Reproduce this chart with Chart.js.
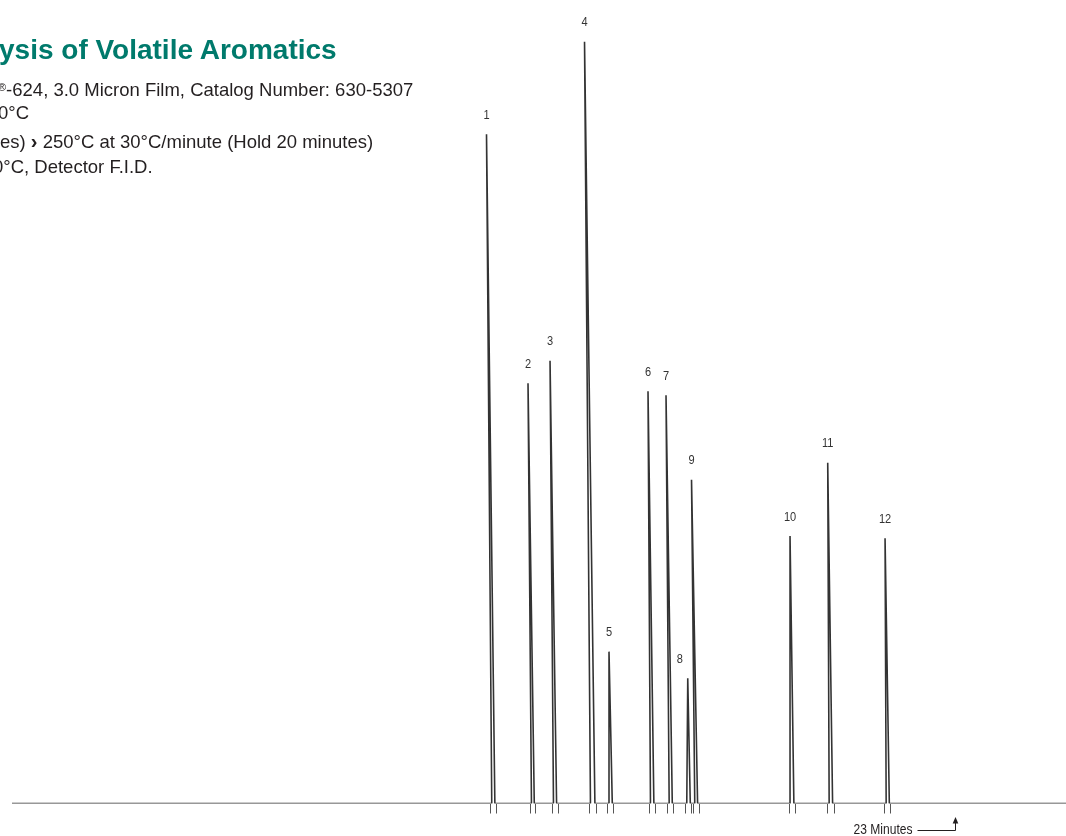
<!DOCTYPE html>
<html lang="en">
<head>
  <meta charset="UTF-8">
  <title>Analysis of Volatile Aromatics</title>
  <script src="https://cdn.jsdelivr.net/npm/chart.js"></script>
  <style>
    html, body {
      margin: 0;
      padding: 0;
      background: #fff;
      overflow: hidden;
    }
    .page {
      position: relative;
      width: 1066px;
      height: 836px;
    }
    .chart-box {
      position: absolute;
      left: 0;
      top: 0;
      width: 1066px;
      height: 836px;
    }
    .txt {
      position: absolute;
      white-space: nowrap;
      font-family: "Liberation Sans", Arial, sans-serif;
      font-size: 18.5px;
      line-height: 1;
      color: #231f20;
    }
    .title {
      font-size: 28px;
      font-weight: bold;
      color: #007a6c;
    }
    .reg {
      font-size: 11px;
      vertical-align: 5px;
    }
    .chev {
      font-weight: bold;
      font-size: 20px;
    }
  </style>
</head>
<body>
<div class="page">
  <div class="chart-box">
    <canvas id="chromChart"></canvas>
  </div>
  <div class="txt title" style="left:-1px; top:35.6px;">ysis of Volatile Aromatics</div>
  <div class="txt" style="left:-2px; top:81px;"><span class="reg">®</span>-624, 3.0 Micron Film, Catalog Number: 630-5307</div>
  <div class="txt" style="left:-2px; top:104.3px;">0°C</div>
  <div class="txt" style="left:0px; top:131px;">es) <span class="chev">›</span> 250°C at 30°C/minute (Hold 20 minutes)</div>
  <div class="txt" style="left:-7px; top:157.6px;">0°C, Detector F.I.D.</div>
</div>
<script>
  // peak numbers, retention (apex) times in minutes, relative heights (% of full scale)
  const peakNumbers = ['1', '2', '3', '4', '5', '6', '7', '8', '9', '10', '11', '12'];
  const retentionTimes = [11.570, 12.582, 13.119, 13.960, 14.557, 15.508, 15.947, 16.477, 16.569, 18.971, 19.890, 21.288];
  const peakHeights = [83.3, 52.3, 55.1, 94.8, 18.9, 51.3, 50.8, 15.6, 40.3, 33.3, 42.4, 33.0];
  // integration marks (peak start / end) in minutes
  const peakStarts = [11.663, 12.631, 13.168, 14.070, 14.526, 15.533, 15.989, 16.418, 16.613, 18.954, 19.890, 21.280];
  const peakEnds = [11.809, 12.770, 13.314, 14.248, 14.672, 15.686, 16.135, 16.574, 16.752, 19.100, 20.044, 21.427];
  const runEnd = 25.7;
  const markerTime = 23;
  const markerLabel = '23 Minutes';

  // trace: baseline with a narrow triangle for every peak
  const inset = 0.035;
  const trace = [{ x: 0, y: 0 }];
  for (let i = 0; i < retentionTimes.length; i++) {
    trace.push({ x: peakStarts[i] + inset, y: 0 });
    trace.push({ x: retentionTimes[i], y: peakHeights[i] });
    trace.push({ x: peakEnds[i] - inset, y: 0 });
  }
  trace.push({ x: runEnd, y: 0 });

  const markTicks = peakStarts.concat(peakEnds).sort((a, b) => a - b);

  // condensed look: draw Liberation Sans squeezed horizontally
  function narrowText(c, text, x, y, align, squeeze) {
    c.save();
    c.translate(x, y);
    c.scale(squeeze, 1);
    c.textAlign = align;
    c.fillText(text, 0, 0);
    c.restore();
  }

  const annotations = {
    id: 'annotations',
    afterDraw(chart) {
      const c = chart.ctx;
      const xs = chart.scales.x;
      const ys = chart.scales.y;
      c.save();
      c.fillStyle = '#333';
      c.font = '13px "Liberation Sans", Arial, sans-serif';
      c.textBaseline = 'middle';
      peakNumbers.forEach((n, i) => {
        const px = xs.getPixelForValue(retentionTimes[i]);
        const py = ys.getPixelForValue(peakHeights[i]);
        const dx = n === '8' ? -8 : 0;
        narrowText(c, n, px + dx, py - 19, 'center', 0.85);
      });

      // time marker under the baseline
      const mx = Math.round(xs.getPixelForValue(markerTime)) + 0.5;
      const base = ys.getPixelForValue(0);
      const ly = base + 27;
      c.font = '14px "Liberation Sans", Arial, sans-serif';
      c.fillStyle = '#231f20';
      narrowText(c, markerLabel, mx - 43, ly, 'right', 0.86);
      c.strokeStyle = '#231f20';
      c.lineWidth = 1;
      c.beginPath();
      c.moveTo(mx - 38, ly);
      c.lineTo(mx, ly);
      c.lineTo(mx, base + 18);
      c.stroke();
      c.beginPath();
      c.moveTo(mx, base + 13.5);
      c.lineTo(mx - 2.8, base + 20);
      c.lineTo(mx + 2.8, base + 20);
      c.closePath();
      c.fill();
      c.restore();
    }
  };

  const ctx = document.getElementById('chromChart').getContext('2d');
  const chromChart = new Chart(ctx, {
    type: 'line',
    data: {
      datasets: [{
        data: trace,
        borderColor: '#333',
        borderWidth: 1.6,
        borderJoinStyle: 'bevel',
        pointRadius: 0,
        tension: 0,
        fill: false
      }]
    },
    options: {
      responsive: true,
      maintainAspectRatio: false,
      animation: false,
      layout: {
        padding: { left: 12, right: 0, top: 0, bottom: 22.5 }
      },
      plugins: {
        legend: { display: false },
        tooltip: { enabled: false }
      },
      scales: {
        x: {
          type: 'linear',
          min: 0,
          max: runEnd,
          border: { display: false },
          grid: {
            drawOnChartArea: false,
            drawTicks: true,
            tickLength: 10,
            tickColor: '#555',
            tickWidth: 1
          },
          ticks: { display: false },
          afterBuildTicks: (axis) => {
            axis.ticks = markTicks.map(v => ({ value: v }));
          }
        },
        y: {
          display: false,
          min: 0,
          max: 100
        }
      }
    },
    plugins: [annotations]
  });
</script>
</body>
</html>
